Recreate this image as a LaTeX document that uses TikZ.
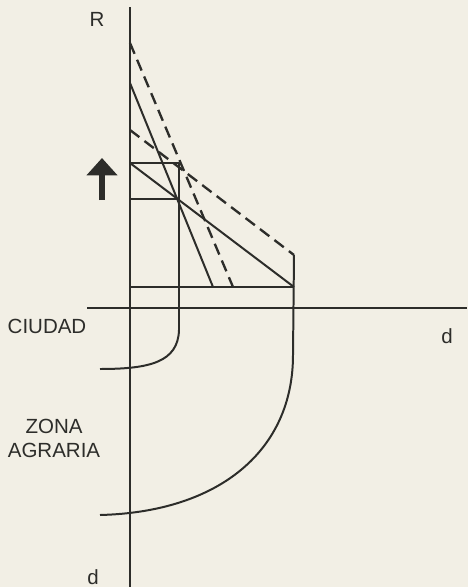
\documentclass[tikz,border=0pt]{standalone}
\usepackage{fontspec}
\setmainfont{Liberation Sans}
\usepackage{xcolor}
\usetikzlibrary{arrows.meta}
\definecolor{paper}{RGB}{242,239,229}
\definecolor{ink}{RGB}{45,45,42}

\begin{document}
\begin{tikzpicture}[x=0.03cm,y=-0.03cm,
      ln/.style={ink,line width=1.7pt},
      dsh/.style={ink,line width=2pt,dash pattern=on 10pt off 5.5pt},
      lbl/.style={ink,font=\fontsize{17.5}{20.5}\selectfont,inner sep=0pt,align=center},
      up/.style={ink,line width=0.18cm,-{Triangle[length=0.52cm,width=0.9cm]}},
  ]
  \fill[paper] (0,0) rectangle (468,587);
  \useasboundingbox (0,0) rectangle (468,587);

  %--- axes ---
  \coordinate (Rtop) at (130,7);
  \coordinate (Rbot) at (130,587);
  \coordinate (dL) at (87,308);
  \coordinate (dR) at (467,308);
  \draw[ln] (Rtop) -- (Rbot);
  \draw[ln] (dL) -- (dR);

  \node[lbl] (R) at (97,19) {R};
  \node[lbl] (dx) at (447,336) {d};
  \node[lbl] (dy) at (93,577) {d};
  \node[lbl] (city) at (47,326) {CIUDAD};
  \node[lbl] (farm) at (54,438) {ZONA\\AGRARIA};

  % rising rent
  \coordinate (a0) at (102,200);
  \coordinate (a1) at (102,158);
  \draw[up] (a0) -- (a1);

  %--- rent lines ---
  \coordinate (p1) at (130,83);
  \coordinate (q1) at (213,287);
  \coordinate (p2) at (130,163);
  \coordinate (q2) at (294,287);
  \coordinate (p3) at (130,43);
  \coordinate (q3) at (233,287);
  \coordinate (p4) at (130,130);
  \coordinate (q4) at (294,255);
  \coordinate (m) at (130,199);
  \coordinate (k) at (179,199);
  \coordinate (n) at (179,163);
  \coordinate (b) at (130,287);

  \draw[ln] (p1) -- (q1);
  \draw[ln] (p2) -- (q2);
  \draw[dsh] (p3) -- (q3);
  \draw[dsh] (p4) -- (q4);

  \draw[ln] (p2) -- (n);
  \draw[ln] (m) -- (k);
  \draw[ln] (b) -- (q2);

  %--- city and farm limits ---
  \coordinate (c1) at (179,330);
  \coordinate (c2) at (100,369);
  \draw[ln] (n) -- (c1) .. controls (178,362) and (150,369) .. (c2);

  \coordinate (z1) at (293,355);
  \coordinate (z2) at (100,515);
  \draw[ln] (q4) -- (z1) .. controls (293,450) and (220,512) .. (z2);
\end{tikzpicture}
\end{document}
